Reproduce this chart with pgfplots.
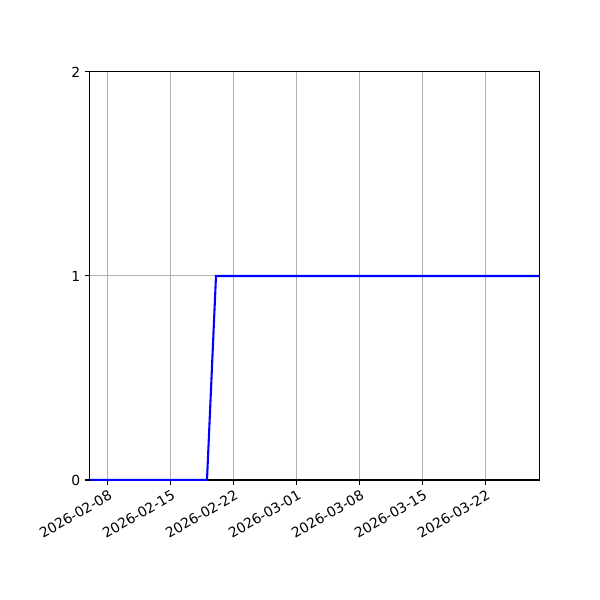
\documentclass[border=0pt]{standalone}
\usepackage{fontspec}
\setmainfont{DejaVu Sans}
\usepackage{pgfplots}
\pgfplotsset{compat=1.18}
\begin{document}
\begin{tikzpicture}
  \useasboundingbox (0,0) rectangle (432pt,432pt);
  \begin{axis}[
      at={(64.8pt,86.4pt)}, anchor=south west,
      scale only axis, width=324pt, height=293.76pt,
      xmin=-2, xmax=48, ymin=0, ymax=2,
      xtick={0,7,14,21,28,35,42},
      xticklabels={2026-02-08,2026-02-15,2026-02-22,2026-03-01,2026-03-08,2026-03-15,2026-03-22},
      ytick={0,1,2},
      xticklabel style={rotate=30, anchor=north east, font=\fontsize{10}{12}\selectfont, inner sep=0pt},
      xticklabel shift=3pt,
      yticklabel style={font=\fontsize{10}{12}\selectfont},
      /pgf/number format/assume math mode=true,
      tick align=outside, major tick length=3.5pt,
      xtick pos=bottom, ytick pos=left,
      tick style={black, line width=0.72pt},
      axis line style={line width=0.72pt},
      grid=major, major grid style={color=black!31, line width=0.72pt},
    ]
    % days counted from 2026-02-08
    \addplot[blue, line width=1.5pt] coordinates {
      (-2,0) (-1,0) (0,0) (1,0) (2,0) (3,0) (4,0) (5,0) (6,0) (7,0) (8,0) (9,0) (10,0) (11,0)
      (12,1) (13,1) (14,1) (20,1) (30,1) (40,1) (48,1)
    };
  \end{axis}
\end{tikzpicture}
\end{document}
